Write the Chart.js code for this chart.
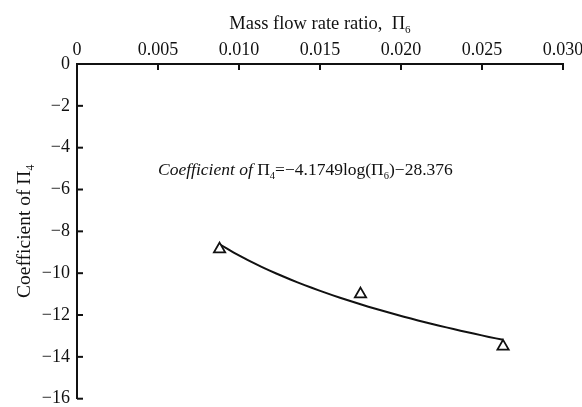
<!DOCTYPE html>
<html>
<head>
<meta charset="utf-8">
<script src="https://cdn.jsdelivr.net/npm/chart.js@4/dist/chart.umd.min.js"></script>
<style>
  html, body { margin: 0; padding: 0; background: #fff; }
  canvas { display: block; }
</style>
</head>
<body>
<canvas id="chart" width="582" height="407"></canvas>
<script>
// measured points
const flowRatio = [0.0088, 0.0175, 0.0263];
const coefPi4 = [-8.85, -11.0, -13.5];

// fitted curve: coef = a*log(x) + b
const fitA = -4.1749;
const fitB = -28.376;
const fitRange = [0.0088, 0.0263];

const xMin = 0, xMax = 0.030, xStep = 0.005;
const yMin = -16, yMax = 0, yStep = 2;

const serif = "'Liberation Serif', 'Times New Roman', serif";

const fitPoints = [];
for (let i = 0; i <= 40; i++) {
  const x = fitRange[0] + (fitRange[1] - fitRange[0]) * i / 40;
  fitPoints.push({ x, y: fitA * Math.log(x) + fitB });
}

// draws text runs with italic / subscript parts
function drawRuns(ctx, runs, x, y, size, align) {
  const fontOf = r => (r.italic ? 'italic ' : '') + (r.sub ? size * 0.6 : size) + 'px ' + serif;
  let total = 0;
  runs.forEach(r => { ctx.font = fontOf(r); total += ctx.measureText(r.text).width; });
  let cx = align === 'center' ? x - total / 2 : x;
  ctx.textAlign = 'left';
  ctx.textBaseline = 'alphabetic';
  runs.forEach(r => {
    ctx.font = fontOf(r);
    ctx.fillText(r.text, cx, r.sub ? y + size * 0.2 : y);
    cx += ctx.measureText(r.text).width;
  });
}

const decorations = {
  id: 'decorations',
  afterDraw(chart) {
    const ctx = chart.ctx;
    const { x, y } = chart.scales;
    ctx.save();
    ctx.strokeStyle = '#111';
    ctx.lineWidth = 2;
    // inward tick marks
    x.ticks.forEach(t => {
      const px = x.getPixelForValue(t.value);
      ctx.beginPath(); ctx.moveTo(px, y.top); ctx.lineTo(px, y.top + 6); ctx.stroke();
    });
    y.ticks.forEach(t => {
      const py = y.getPixelForValue(t.value);
      ctx.beginPath(); ctx.moveTo(x.left, py); ctx.lineTo(x.left + 6, py); ctx.stroke();
    });

    ctx.fillStyle = '#111';
    // axis titles
    drawRuns(ctx, [
      { text: 'Mass flow rate ratio,  \u03A0' },
      { text: '6', sub: true }
    ], (x.left + x.right) / 2, 29, 18.5, 'center');

    ctx.save();
    ctx.translate(30, (y.top + y.bottom) / 2);
    ctx.rotate(-Math.PI / 2);
    drawRuns(ctx, [
      { text: 'Coefficient of \u03A0' },
      { text: '4', sub: true }
    ], 0, 0, 19.5, 'center');
    ctx.restore();

    // fit equation
    drawRuns(ctx, [
      { text: 'Coefficient of ', italic: true },
      { text: '\u03A0' },
      { text: '4', sub: true },
      { text: '=\u22124.1749log(\u03A0' },
      { text: '6', sub: true },
      { text: ')\u221228.376' }
    ], 158, 175, 17.5, 'left');
    ctx.restore();
  }
};

new Chart(document.getElementById('chart'), {
  type: 'scatter',
  data: {
    datasets: [
      {
        data: flowRatio.map((v, i) => ({ x: v, y: coefPi4[i] })),
        pointStyle: 'triangle',
        pointRadius: 6.5,
        pointBackgroundColor: '#fff',
        pointBorderColor: '#111',
        pointBorderWidth: 1.8,
        showLine: false
      },
      {
        data: fitPoints,
        showLine: true,
        borderColor: '#111',
        borderWidth: 2,
        pointRadius: 0,
        tension: 0
      }
    ]
  },
  plugins: [decorations],
  options: {
    responsive: false,
    animation: false,
    layout: { padding: { left: 0, top: 0, right: 19, bottom: 7 } },
    plugins: { legend: { display: false }, tooltip: { enabled: false } },
    scales: {
      x: {
        type: 'linear',
        position: 'top',
        min: xMin, max: xMax,
        afterFit: s => { s.height = 64; s.paddingLeft = 0; s.paddingRight = 0; },
        grid: { display: false, drawTicks: false },
        border: { display: true, color: '#111', width: 2 },
        ticks: {
          stepSize: xStep,
          padding: 3,
          color: '#111',
          font: { family: serif, size: 18 },
          callback: v => v === 0 ? '0' : v.toFixed(3)
        }
      },
      y: {
        type: 'linear',
        min: yMin, max: yMax,
        afterFit: s => { s.width = 77; s.paddingTop = 0; s.paddingBottom = 0; },
        grid: { display: false, drawTicks: false },
        border: { display: true, color: '#111', width: 2 },
        ticks: {
          stepSize: yStep,
          padding: 7,
          color: '#111',
          font: { family: serif, size: 18 },
          callback: v => v === 0 ? '0' : '\u2212' + Math.abs(v)
        }
      }
    }
  }
});
</script>
</body>
</html>
